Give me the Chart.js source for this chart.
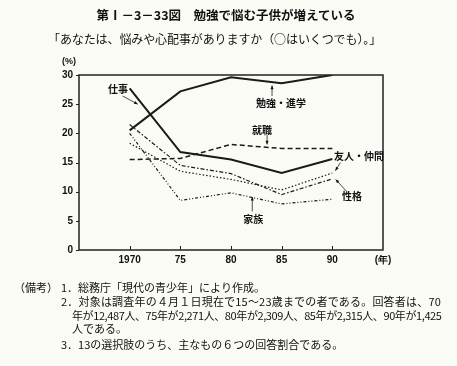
<!DOCTYPE html>
<html><head><meta charset="utf-8">
<script src="https://cdn.jsdelivr.net/npm/chart.js@4"></script>
<style>
html,body{margin:0;padding:0;background:#fbfbf6;}
#wrap{position:relative;width:457px;height:366px;overflow:hidden;font-family:"Noto Sans CJK JP",sans-serif;color:#111;}
canvas{position:absolute;left:0;top:0;}
.t{position:absolute;white-space:nowrap;line-height:1;}
</style></head><body>
<div id="wrap">
<canvas id="c" width="457" height="366"></canvas>
<div class="t" style="left:0;width:452px;text-align:center;top:9px;font-size:12.5px;font-weight:bold;">第Ⅰ－3－33図　勉強で悩む子供が増えている</div>
<div class="t" style="left:48px;top:33px;font-size:12px;letter-spacing:-0.1px;">「あなたは、悩みや心配事がありますか（○はいくつでも）。」</div>
<div class="t" style="left:62px;top:57px;font-size:9px;font-family:'Liberation Sans',sans-serif;font-weight:bold;">(%)</div>
<div class="t" style="left:14px;top:282px;font-size:11px;">（備考）</div>
<div class="t" style="left:61px;top:282px;font-size:11px;">1．総務庁「現代の青少年」により作成。</div>
<div class="t" style="left:61px;top:296px;font-size:11px;letter-spacing:0.2px;">2．対象は調査年の４月１日現在で15～23歳までの者である。回答者は、70</div>
<div class="t" style="left:72px;top:310px;font-size:11px;letter-spacing:-0.4px;">年が12,487人、75年が2,271人、80年が2,309人、85年が2,315人、90年が1,425</div>
<div class="t" style="left:72px;top:323px;font-size:11px;">人である。</div>
<div class="t" style="left:61px;top:339px;font-size:11px;">3．13の選択肢のうち、主なもの６つの回答割合である。</div>
</div>
<script>
const years = [1970, 1975, 1980, 1985, 1990];
const xTickLabels = ["1970", "75", "80", "85", "90", "(年)"];
const yTicks = [0, 5, 10, 15, 20, 25, 30];
const seriesNames = ["勉強・進学", "仕事", "就職", "友人・仲間", "性格", "家族"];
const benkyo = [20.5, 27.2, 29.6, 28.6, 30.0];
const shigoto = [27.7, 16.8, 15.5, 13.2, 15.6];
const shushoku = [15.5, 15.7, 18.1, 17.4, 17.4];
const yujin = [18.3, 13.5, 12.1, 10.3, 13.2];
const seikaku = [21.5, 14.5, 13.1, 9.5, 12.2];
const kazoku = [20.0, 8.5, 9.8, 7.9, 8.7];

const pts = arr => arr.map((v, i) => ({x: years[i], y: v}));
const styles = [
  {borderWidth: 2, borderDash: []},
  {borderWidth: 2, borderDash: []},
  {borderWidth: 1.5, borderDash: [5, 3]},
  {borderWidth: 1.2, borderDash: [1.5, 2]},
  {borderWidth: 1.2, borderDash: [4, 2, 1.5, 2]},
  {borderWidth: 1.2, borderDash: [3, 2, 1, 2, 1, 2]}
];
const allData = [benkyo, shigoto, shushoku, yujin, seikaku, kazoku];

const annotations = [
  {text: "仕事", x: 1968.85, y: 27.6, ax: [1969.3, 26.4, 1970.8, 25.0]},
  {text: "勉強・進学", x: 1984.94, y: 25.2, ax: [1984.05, 26.4, 1984.05, 28.2]},
  {text: "就職", x: 1983.06, y: 20.5, ax: [1983.56, 19.7, 1983.56, 18.1]},
  {text: "友人・仲間", x: 1992.64, y: 16.0, ax: [1990.8, 15.0, 1990.3, 13.6]},
  {text: "性格", x: 1991.95, y: 9.3, ax: [1991.43, 10.0, 1990.33, 12.1]},
  {text: "家族", x: 1982.2, y: 5.3, ax: [1982.1, 6.6, 1982.1, 9.1]}
];

const deco = {
  id: 'deco',
  afterDatasetsDraw(chart) {
    const {ctx, chartArea: a, scales: {x, y}} = chart;
    ctx.save();
    ctx.strokeStyle = '#222';
    ctx.lineWidth = 1.5;
    ctx.strokeRect(a.left, a.top, a.right - a.left, a.bottom - a.top);
    ctx.lineWidth = 1;
    years.forEach(yr => {
      const px = Math.round(x.getPixelForValue(yr)) + 0.5;
      ctx.beginPath(); ctx.moveTo(px, a.bottom); ctx.lineTo(px, a.bottom - 4); ctx.stroke();
    });
    yTicks.forEach(v => {
      const py = Math.round(y.getPixelForValue(v)) + 0.5;
      ctx.beginPath(); ctx.moveTo(a.left - 3, py); ctx.lineTo(a.left, py); ctx.stroke();
    });
    ctx.fillStyle = '#111';
    ctx.font = 'bold 10px "Noto Sans CJK JP"';
    ctx.textAlign = 'center'; ctx.textBaseline = 'middle';
    annotations.forEach(an => {
      ctx.fillText(an.text, x.getPixelForValue(an.x), y.getPixelForValue(an.y));
      const x1 = x.getPixelForValue(an.ax[0]), y1 = y.getPixelForValue(an.ax[1]);
      const x2 = x.getPixelForValue(an.ax[2]), y2 = y.getPixelForValue(an.ax[3]);
      ctx.lineWidth = 0.8;
      ctx.beginPath(); ctx.moveTo(x1, y1); ctx.lineTo(x2, y2); ctx.stroke();
      const ang = Math.atan2(y2 - y1, x2 - x1);
      ctx.beginPath();
      ctx.moveTo(x2, y2);
      ctx.lineTo(x2 - 4 * Math.cos(ang - 0.4), y2 - 4 * Math.sin(ang - 0.4));
      ctx.lineTo(x2 - 4 * Math.cos(ang + 0.4), y2 - 4 * Math.sin(ang + 0.4));
      ctx.closePath(); ctx.fill();
    });
    ctx.restore();
  }
};

new Chart(document.getElementById('c'), {
  type: 'line',
  data: {
    datasets: allData.map((d, i) => ({
      label: seriesNames[i],
      data: pts(d),
      borderColor: '#1a1a1a',
      borderWidth: styles[i].borderWidth,
      borderDash: styles[i].borderDash,
      pointRadius: 0,
      tension: 0,
      fill: false
    }))
  },
  options: {
    responsive: false,
    animation: false,
    layout: {padding: {left: 0, right: 74, top: 75, bottom: 96}},
    plugins: {legend: {display: false}, tooltip: {enabled: false}},
    scales: {
      x: {
        type: 'linear', min: 1965, max: 1995,
        afterBuildTicks: s => { s.ticks = [1970, 1975, 1980, 1985, 1990, 1995].map(v => ({value: v})); },
        afterFit: s => { s.height = 20; },
        grid: {display: false, drawTicks: false}, border: {display: false},
        ticks: {
          padding: 4, maxRotation: 0, autoSkip: false, color: '#111',
          font: {family: 'Liberation Sans', size: 10, weight: 'bold'},
          callback: (v, i) => xTickLabels[i]
        }
      },
      y: {
        min: 0, max: 30,
        afterBuildTicks: s => { s.ticks = yTicks.map(v => ({value: v})); },
        afterFit: s => { s.width = 79; },
        grid: {display: false, drawTicks: false}, border: {display: false},
        ticks: {padding: 6, color: '#111', font: {family: 'Liberation Sans', size: 10, weight: 'bold'}}
      }
    }
  },
  plugins: [deco]
});
</script>
</body></html>
